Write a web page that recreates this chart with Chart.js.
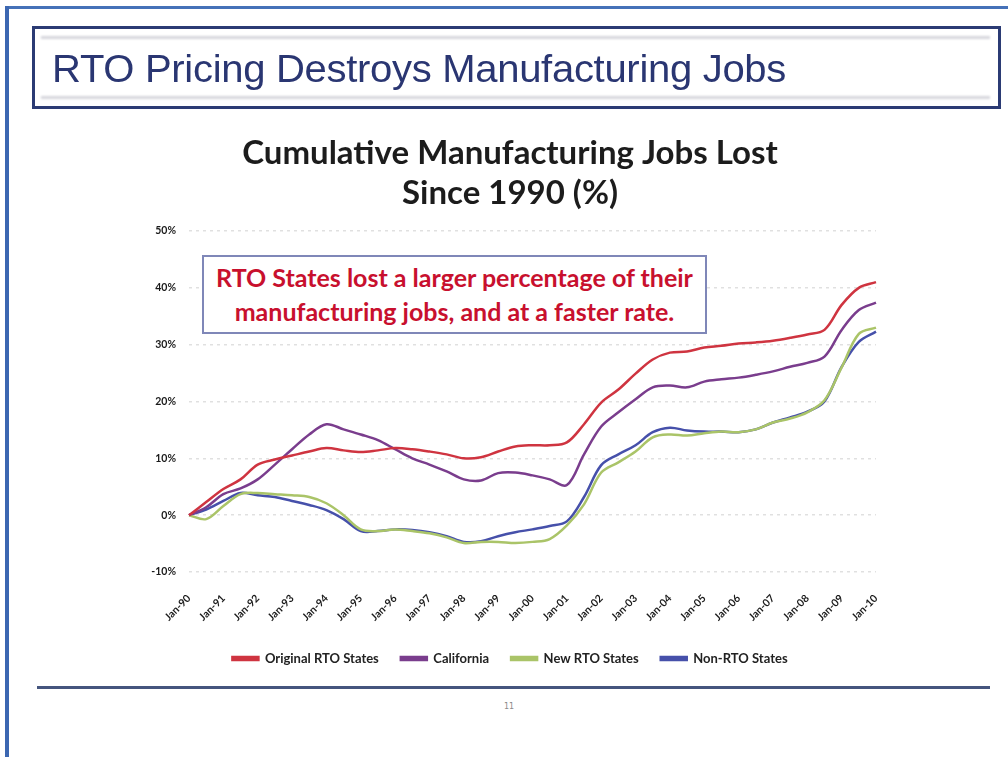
<!DOCTYPE html>
<html>
<head>
<meta charset="utf-8">
<title>RTO Pricing Destroys Manufacturing Jobs</title>
<script src="https://cdn.jsdelivr.net/npm/chart.js@4.4.1/dist/chart.umd.min.js"></script>
<style>
  body { margin: 0; width: 1008px; height: 757px; overflow: hidden; position: relative; background: #fff; font-family: Lato, "Open Sans", sans-serif; }
  .frame-top { position: absolute; left: 5px; top: 6px; width: 1003px; height: 3px; background: #4571b8; }
  .frame-left { position: absolute; left: 5px; top: 6px; width: 4px; height: 751px; background: #3c67b1; }
  .title-box { position: absolute; left: 32px; top: 26px; width: 963px; height: 77px; border: 3px solid #2b3b74; }
  .title-box .stripe { position: absolute; left: 6px; right: 8px; height: 3px; background: #d6d6dc; filter: blur(1px); }
  .title-box h1 { position: absolute; left: 17px; top: 19px; margin: 0; font: 38px "Liberation Sans Narrow", "Liberation Sans", Arial, sans-serif; color: #2a3672; white-space: nowrap; transform-origin: left center; letter-spacing: -0.3px; }
  #chart { position: absolute; left: 0; top: 0; z-index: 1; }
  .note { position: absolute; left: 202px; top: 255px; width: 501px; height: 72px; border: 2px solid #7f87b8; background: #fff; z-index: 2;
          color: #c8102e; font: bold 25px Lato, sans-serif; text-align: center; line-height: 34px; padding-top: 3px; box-sizing: content-box; white-space: nowrap; }
  .rule { position: absolute; left: 37px; top: 686px; width: 953px; height: 3px; background: #45557e; }
  .page { position: absolute; left: 504px; top: 702px; font: 8px "DejaVu Sans", sans-serif; color: #8a8a8a; }
</style>
</head>
<body>
<div class="frame-top"></div>
<div class="frame-left"></div>
<div class="title-box">
  <div class="stripe" style="top:7px"></div>
  <div class="stripe" style="top:67px"></div>
  <h1 id="slideTitle">RTO Pricing Destroys Manufacturing Jobs</h1>
</div>
<canvas id="chart" width="1008" height="757"></canvas>
<div class="note">RTO States lost a larger percentage of their<br>manufacturing jobs, and at a faster rate.</div>
<div class="rule"></div>
<div class="page">11</div>

<script>
// half-year readings, Jan-90 .. Jan-10 (cumulative % of manufacturing jobs lost)
const periods = [];
for (let y = 90; y <= 110; y++) {
    const yy = String(y % 100).padStart(2, '0');
    periods.push('Jan-' + yy);
    if (y < 110) periods.push('Jul-' + yy);
}

const originalRto = [
    0, 2.3, 4.6, 6.3, 8.9, 9.8, 10.5, 11.2, 11.8, 11.4,
    11.1, 11.4, 11.8, 11.6, 11.2, 10.7, 10.0, 10.2, 11.2, 12.1,
    12.3, 12.3, 12.8, 16.0, 19.8, 22.1, 24.9, 27.4, 28.6, 28.8,
    29.5, 29.8, 30.2, 30.4, 30.7, 31.2, 31.8, 32.6, 37.0, 40.0,
    41.0
];
const california = [
    0, 1.4, 3.7, 4.7, 6.3, 8.9, 11.6, 14.2, 16.0, 15.1,
    14.2, 13.2, 11.6, 10.0, 8.9, 7.7, 6.3, 6.1, 7.4, 7.5,
    7.0, 6.3, 5.3, 10.7, 15.6, 18.1, 20.4, 22.5, 22.8, 22.5,
    23.5, 23.9, 24.2, 24.7, 25.3, 26.1, 26.8, 27.9, 32.6, 36.1,
    37.4
];
const newRto = [
    0, -0.7, 1.6, 3.7, 3.9, 3.7, 3.5, 3.2, 2.1, 0.0,
    -2.5, -2.8, -2.5, -2.8, -3.2, -3.9, -4.9, -4.7, -4.7, -4.9,
    -4.7, -4.2, -1.8, 1.9, 7.5, 9.3, 11.2, 13.7, 14.2, 14.0,
    14.4, 14.7, 14.6, 15.1, 16.3, 17.0, 18.1, 20.2, 26.0, 31.9,
    33.0
];
const nonRto = [
    0, 1.0, 2.5, 3.9, 3.5, 3.2, 2.5, 1.8, 0.9, -0.7,
    -2.8, -2.8, -2.5, -2.6, -3.0, -3.7, -4.7, -4.6, -3.7, -3.0,
    -2.5, -1.9, -1.1, 3.2, 8.8, 10.7, 12.3, 14.6, 15.4, 14.9,
    14.7, 14.7, 14.6, 15.1, 16.3, 17.2, 18.2, 20.0, 26.1, 30.5,
    32.3
];

const yTicks = [-10, 0, 10, 20, 30, 40, 50];

// squeeze the slide heading to its box width
const head = document.getElementById('slideTitle');
head.style.transform = 'scaleX(' + (734 / head.getBoundingClientRect().width) + ')';

function series(label, data, color) {
    return {
        label: label,
        data: data,
        borderColor: color,
        backgroundColor: color,
        borderWidth: 2.5,
        pointRadius: 0,
        tension: 0.35
    };
}

new Chart(document.getElementById('chart'), {
    type: 'line',
    data: {
        labels: periods,
        datasets: [
            series('Original RTO States', originalRto, '#cf3440'),
            series('California', california, '#7a3d8d'),
            series('New RTO States', newRto, '#aac468'),
            series('Non-RTO States', nonRto, '#4650aa')
        ]
    },
    options: {
        responsive: false,
        animation: false,
        layout: { padding: { left: 144, right: 132, top: 0, bottom: 82 } },
        plugins: {
            title: {
                display: true,
                text: ['Cumulative Manufacturing Jobs Lost', 'Since 1990 (%)'],
                color: '#1c1c1c',
                font: { family: 'Lato', size: 33, weight: 'bold', lineHeight: 40 / 33 },
                padding: { top: 133, bottom: 18 }
            },
            legend: {
                position: 'bottom',
                labels: {
                    boxWidth: 26,
                    boxHeight: 3,
                    padding: 22,
                    color: '#222',
                    font: { family: 'Lato', size: 13, weight: 'bold' }
                }
            },
            tooltip: { enabled: false }
        },
        scales: {
            x: {
                grid: { display: false },
                border: { display: false },
                afterFit: scale => { scale.height = 58; },
                ticks: {
                    autoSkip: false,
                    minRotation: 45,
                    maxRotation: 45,
                    padding: 12,
                    color: '#1a1a1a',
                    font: { family: 'Lato', size: 10.5, weight: 'bold' },
                    callback: function (value, index) {
                        return index % 2 === 0 ? this.getLabelForValue(value) : null;
                    }
                }
            },
            y: {
                min: -10,
                max: 50,
                afterFit: scale => { scale.width = 45; },
                afterBuildTicks: scale => { scale.ticks = yTicks.map(v => ({ value: v })); },
                // dotted horizontal gridlines, no axis line
                border: { display: false, dash: [3, 4] },
                grid: {
                    drawTicks: false,
                    color: 'rgba(0,0,0,0.12)',
                    lineWidth: 1.5
                },
                ticks: {
                    padding: 13,
                    color: '#1a1a1a',
                    font: { family: 'Lato', size: 10.5, weight: 'bold' },
                    callback: value => value + '%'
                }
            }
        }
    }
});
</script>
</body>
</html>
